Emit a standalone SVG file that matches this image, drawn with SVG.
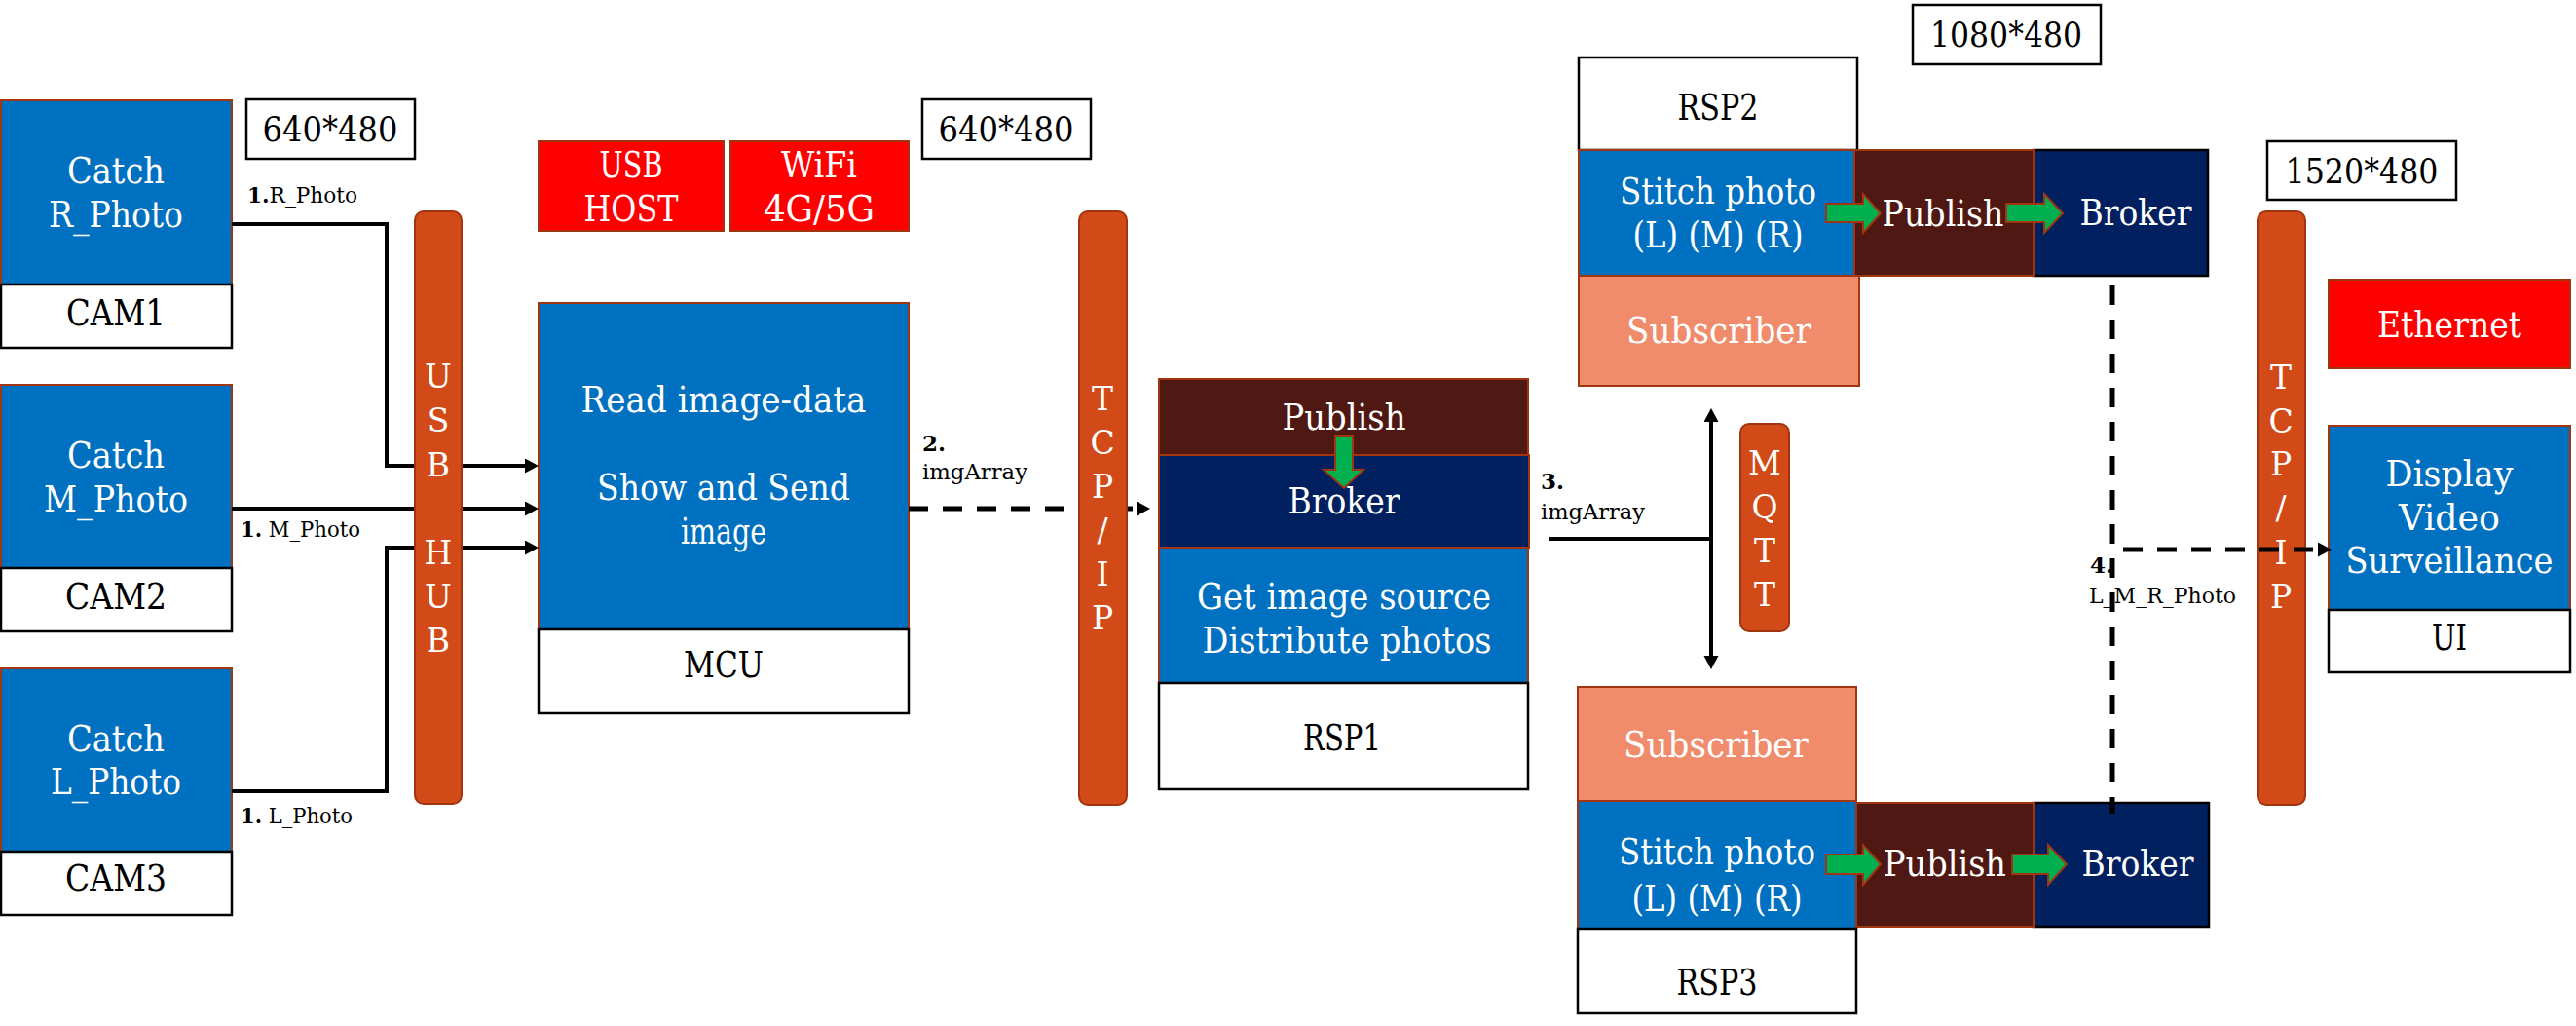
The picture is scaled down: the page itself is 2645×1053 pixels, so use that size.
<svg xmlns="http://www.w3.org/2000/svg" width="2645" height="1053" viewBox="0 0 2645 1053">
<defs>
<style>
text{font-family:"DejaVu Serif","Liberation Serif",serif}
.w{fill:#fff;font-size:37px;text-anchor:middle}
.k{fill:#000;font-size:37px;text-anchor:middle}
.res{fill:#000;font-size:36px;text-anchor:middle}
.sm{fill:#000;font-size:23px}
.v{fill:#fff;font-size:33px;text-anchor:middle}
.blue{fill:#0070c0;stroke:#a0350f;stroke-width:2}
.wb{fill:#fff;stroke:#000;stroke-width:2.5}
.red{fill:#ff0000;stroke:#a0350f;stroke-width:2}
.pub{fill:#4f1813;stroke:#a0350f;stroke-width:2}
.brk{fill:#002060;stroke:#a0350f;stroke-width:2}
.brkk{fill:#002060;stroke:#000;stroke-width:2.5}
.sub{fill:#f08c6b;stroke:#a0350f;stroke-width:2}
.bar{fill:#d24a18;stroke:#a0350f;stroke-width:2}
.grn{fill:#00b050;stroke:#a0350f;stroke-width:2}
.ln{fill:none;stroke:#000;stroke-width:4}
.dl{fill:none;stroke:#000;stroke-width:5;stroke-dasharray:20 15}
</style>
<marker id="ah" markerUnits="userSpaceOnUse" markerWidth="16" markerHeight="16" refX="4" refY="7.5" orient="auto-start-reverse">
<path d="M0,0 L14,7.5 L0,15 z" fill="#000"/>
</marker>
</defs>
<rect width="2645" height="1053" fill="#fff"/>

<g id="cam1">
<rect class="blue" x="1" y="103" width="237" height="189"/>
<rect class="wb" x="1" y="292" width="237" height="65"/>
<text class="w" x="119" y="188" textLength="100" lengthAdjust="spacingAndGlyphs">Catch</text>
<text class="w" x="119" y="233" textLength="138" lengthAdjust="spacingAndGlyphs">R_Photo</text>
<text class="k" x="119" y="334" textLength="102" lengthAdjust="spacingAndGlyphs">CAM1</text>
</g>
<g id="cam2">
<rect class="blue" x="1" y="395" width="237" height="188"/>
<rect class="wb" x="1" y="583" width="237" height="65"/>
<text class="w" x="119" y="480" textLength="100" lengthAdjust="spacingAndGlyphs">Catch</text>
<text class="w" x="119" y="525" textLength="148" lengthAdjust="spacingAndGlyphs">M_Photo</text>
<text class="k" x="119" y="625" textLength="104" lengthAdjust="spacingAndGlyphs">CAM2</text>
</g>
<g id="cam3">
<rect class="blue" x="1" y="686" width="237" height="188"/>
<rect class="wb" x="1" y="874" width="237" height="65"/>
<text class="w" x="119" y="771" textLength="100" lengthAdjust="spacingAndGlyphs">Catch</text>
<text class="w" x="119" y="815" textLength="134" lengthAdjust="spacingAndGlyphs">L_Photo</text>
<text class="k" x="119" y="914" textLength="104" lengthAdjust="spacingAndGlyphs">CAM3</text>
</g>

<g id="res1">
<rect class="wb" x="253" y="102" width="173" height="61"/>
<text class="res" x="339" y="145" textLength="139" lengthAdjust="spacingAndGlyphs">640*480</text>
</g>
<g id="res2">
<rect class="wb" x="947" y="102" width="173" height="61"/>
<text class="res" x="1033" y="145" textLength="139" lengthAdjust="spacingAndGlyphs">640*480</text>
</g>
<g id="res3">
<rect class="wb" x="1964" y="5" width="193" height="61"/>
<text class="res" x="2060" y="48" textLength="156" lengthAdjust="spacingAndGlyphs">1080*480</text>
</g>
<g id="res4">
<rect class="wb" x="2328" y="145" width="194" height="60"/>
<text class="res" x="2425" y="188" textLength="157" lengthAdjust="spacingAndGlyphs">1520*480</text>
</g>

<g id="usbhost">
<rect class="red" x="553" y="145" width="190" height="92"/>
<text class="w" x="648" y="182" textLength="65" lengthAdjust="spacingAndGlyphs">USB</text>
<text class="w" x="648" y="227" textLength="97" lengthAdjust="spacingAndGlyphs">HOST</text>
</g>
<g id="wifi">
<rect class="red" x="750" y="145" width="183" height="92"/>
<text class="w" x="841" y="182" textLength="78" lengthAdjust="spacingAndGlyphs">WiFi</text>
<text class="w" x="841" y="227" textLength="114" lengthAdjust="spacingAndGlyphs">4G/5G</text>
</g>

<g id="mcu">
<rect class="blue" x="553" y="311" width="380" height="335"/>
<rect class="wb" x="553" y="646" width="380" height="86"/>
<text class="w" x="743" y="423" textLength="293" lengthAdjust="spacingAndGlyphs">Read image-data</text>
<text class="w" x="743" y="513" textLength="260" lengthAdjust="spacingAndGlyphs">Show and Send</text>
<text class="w" x="743" y="558" textLength="88" lengthAdjust="spacingAndGlyphs">image</text>
<text class="k" x="743" y="695" textLength="82" lengthAdjust="spacingAndGlyphs">MCU</text>
</g>

<g id="rsp1">
<rect class="pub" x="1190" y="389" width="379" height="78"/>
<rect class="brk" x="1190" y="467" width="380" height="95"/>
<rect class="blue" x="1190" y="562" width="379" height="139"/>
<rect class="wb" x="1190" y="701" width="379" height="109"/>
<text class="w" x="1380" y="441" textLength="127" lengthAdjust="spacingAndGlyphs">Publish</text>
<text class="w" x="1380" y="527" textLength="115" lengthAdjust="spacingAndGlyphs">Broker</text>
<polygon class="grn" points="1371,447 1389,447 1389,482 1400,482 1380,501 1359,482 1371,482"/>
<text class="w" x="1380" y="625" textLength="302" lengthAdjust="spacingAndGlyphs">Get image source</text>
<text class="w" x="1383" y="670" textLength="297" lengthAdjust="spacingAndGlyphs">Distribute photos</text>
<text class="k" x="1378" y="770" textLength="80" lengthAdjust="spacingAndGlyphs">RSP1</text>
</g>

<g id="rsp2">
<rect class="wb" x="1621" y="59" width="286" height="95"/>
<text class="k" x="1764" y="123" textLength="83" lengthAdjust="spacingAndGlyphs">RSP2</text>
<rect class="sub" x="1621" y="283" width="288" height="113"/>
<text class="w" x="1765" y="352" textLength="190" lengthAdjust="spacingAndGlyphs">Subscriber</text>
<rect class="brkk" x="2088" y="154" width="179" height="129"/>
<rect class="pub" x="1904" y="154" width="184" height="129"/>
<rect class="blue" x="1621" y="154" width="283" height="129"/>
<text class="w" x="1764" y="209" textLength="202" lengthAdjust="spacingAndGlyphs">Stitch photo</text>
<text class="w" x="1764" y="254" textLength="175" lengthAdjust="spacingAndGlyphs">(L) (M) (R)</text>
<text class="w" x="1995" y="232" textLength="125" lengthAdjust="spacingAndGlyphs">Publish</text>
<text class="w" x="2193" y="231" textLength="115" lengthAdjust="spacingAndGlyphs">Broker</text>
<polygon class="grn" points="1875,209 1913,209 1913,199 1931,219 1913,239 1913,228 1875,228"/>
<polygon class="grn" points="2060,209 2099,209 2099,199 2118,219 2099,239 2099,228 2060,228"/>
</g>

<g id="rsp3">
<rect class="sub" x="1620" y="705" width="286" height="117"/>
<text class="w" x="1762" y="777" textLength="190" lengthAdjust="spacingAndGlyphs">Subscriber</text>
<rect class="brkk" x="2088" y="824" width="180" height="127"/>
<rect class="pub" x="1906" y="824" width="182" height="127"/>
<rect class="blue" x="1620" y="822" width="286" height="131"/>
<rect class="wb" x="1620" y="953" width="286" height="87"/>
<text class="w" x="1763" y="887" textLength="202" lengthAdjust="spacingAndGlyphs">Stitch photo</text>
<text class="w" x="1763" y="935" textLength="175" lengthAdjust="spacingAndGlyphs">(L) (M) (R)</text>
<text class="w" x="1997" y="899" textLength="126" lengthAdjust="spacingAndGlyphs">Publish</text>
<text class="w" x="2195" y="899" textLength="115" lengthAdjust="spacingAndGlyphs">Broker</text>
<text class="k" x="1763" y="1021" textLength="83" lengthAdjust="spacingAndGlyphs">RSP3</text>
<polygon class="grn" points="1875,877 1913,877 1913,867 1931,887 1913,908 1913,897 1875,897"/>
<polygon class="grn" points="2066,877 2103,877 2103,867 2122,887 2103,908 2103,897 2066,897"/>
</g>

<g id="ethernet">
<rect class="red" x="2391" y="287" width="248" height="91"/>
<text class="w" x="2515" y="346" textLength="148" lengthAdjust="spacingAndGlyphs">Ethernet</text>
</g>
<g id="ui">
<rect class="blue" x="2391" y="437" width="248" height="189"/>
<rect class="wb" x="2391" y="626" width="248" height="64"/>
<text class="w" x="2515" y="499" textLength="131" lengthAdjust="spacingAndGlyphs">Display</text>
<text class="w" x="2515" y="544" textLength="104" lengthAdjust="spacingAndGlyphs">Video</text>
<text class="w" x="2515" y="588" textLength="213" lengthAdjust="spacingAndGlyphs">Surveillance</text>
<text class="k" x="2515" y="667" textLength="36" lengthAdjust="spacingAndGlyphs">UI</text>
</g>

<g id="tcpip2">
<rect class="bar" x="2318" y="217" width="49" height="609" rx="9"/>
<text class="v" x="2342" y="399">T</text>
<text class="v" x="2342" y="444">C</text>
<text class="v" x="2342" y="488">P</text>
<text class="v" x="2342" y="533">/</text>
<text class="v" x="2342" y="579">I</text>
<text class="v" x="2342" y="624">P</text>
</g>

<g id="mqtt">
<rect class="bar" x="1787" y="435" width="50" height="213" rx="9"/>
<text class="v" x="1812" y="487">M</text>
<text class="v" x="1812" y="532">Q</text>
<text class="v" x="1812" y="577">T</text>
<text class="v" x="1812" y="622">T</text>
</g>

<g id="connectors">
<polyline class="ln" points="238,230 397,230 397,478 543,478" marker-end="url(#ah)"/>
<polyline class="ln" points="238,522 543,522" marker-end="url(#ah)"/>
<polyline class="ln" points="238,812 397,812 397,562 543,562" marker-end="url(#ah)"/>
<path class="dl" d="M933,522 H1171" marker-end="url(#ah)"/>
<path class="ln" d="M1591,553 H1757"/>
<path class="ln" d="M1757,429 V677" marker-start="url(#ah)" marker-end="url(#ah)"/>
<path class="dl" d="M2169,293 V835"/>
<path class="dl" d="M2180,564 H2384" marker-end="url(#ah)"/>
<text class="sm" x="254" y="208" textLength="113" lengthAdjust="spacingAndGlyphs"><tspan font-weight="bold">1.</tspan>R_Photo</text>
<text class="sm" x="247" y="551" textLength="123" lengthAdjust="spacingAndGlyphs"><tspan font-weight="bold">1.</tspan> M_Photo</text>
<text class="sm" x="247" y="845" textLength="115" lengthAdjust="spacingAndGlyphs"><tspan font-weight="bold">1.</tspan> L_Photo</text>
<text class="sm" x="947" y="463" font-weight="bold">2.</text>
<text class="sm" x="947" y="492" textLength="108" lengthAdjust="spacingAndGlyphs">imgArray</text>
<text class="sm" x="1582" y="502" font-weight="bold">3.</text>
<text class="sm" x="1582" y="533" textLength="107" lengthAdjust="spacingAndGlyphs">imgArray</text>
<text class="sm" x="2146" y="588" font-weight="bold">4.</text>
<text class="sm" x="2145" y="619" textLength="151" lengthAdjust="spacingAndGlyphs">L_M_R_Photo</text>
</g>

<g id="usbhub">
<rect class="bar" x="426" y="217" width="48" height="608" rx="9"/>
<text class="v" x="450" y="398">U</text>
<text class="v" x="450" y="443">S</text>
<text class="v" x="450" y="489">B</text>
<text class="v" x="450" y="579">H</text>
<text class="v" x="450" y="624">U</text>
<text class="v" x="450" y="669">B</text>
</g>

<g id="tcpip1">
<rect class="bar" x="1108" y="217" width="49" height="609" rx="9"/>
<text class="v" x="1132" y="421">T</text>
<text class="v" x="1132" y="466">C</text>
<text class="v" x="1132" y="511">P</text>
<text class="v" x="1132" y="556">/</text>
<text class="v" x="1132" y="601">I</text>
<text class="v" x="1132" y="646">P</text>
</g>
</svg>
